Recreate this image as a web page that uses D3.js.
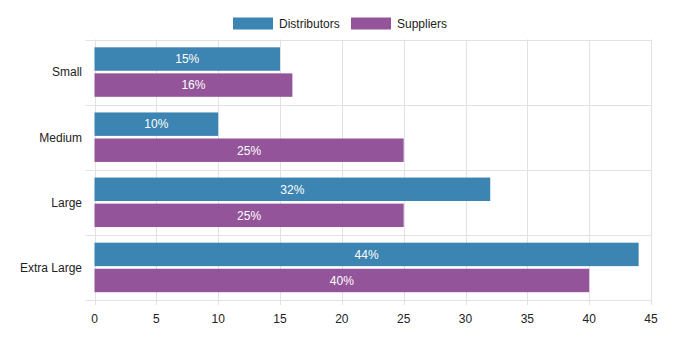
<!DOCTYPE html>
<html><head><meta charset="utf-8">
<script src="https://cdn.jsdelivr.net/npm/d3@7"></script>
<style>
body{margin:0;background:#fff;}
text{font-family:"Liberation Sans",Arial,Helvetica,sans-serif;}
</style></head>
<body><svg id="c" width="684" height="347"></svg>
<script>
const categories = ["Small","Medium","Large","Extra Large"];
const seriesNames = ["Distributors","Suppliers"];
const distributors = [15,10,32,44];
const suppliers = [16,25,25,40];
const xTicks = [0,5,10,15,20,25,30,35,40,45];
const colors = ["#3c84b1","#935499"];

const svg = d3.select("#c");
const L=94.5, R=651, T=39.5, B=300;
const x = d3.scaleLinear().domain([0,45]).range([L,R]);
const y = d3.scaleBand().domain(categories).range([T,B]);
const inner = d3.scaleBand().domain(seriesNames).range([0,y.bandwidth()]).paddingInner(0).paddingOuter(0);
const grid="#e2e2e2";

// vertical gridlines
svg.append("g").selectAll("line").data(xTicks).join("line")
  .attr("x1",d=>Math.round(x(d))+0.5).attr("x2",d=>Math.round(x(d))+0.5)
  .attr("y1",T).attr("y2",B+5).attr("stroke",grid).attr("stroke-width",1);
// horizontal gridlines at category boundaries
const bounds = categories.map(c=>y(c)).concat([B]);
svg.append("g").selectAll("line").data(bounds).join("line")
  .attr("x1",L-9).attr("x2",R).attr("y1",d=>Math.round(d)+0.5).attr("y2",d=>Math.round(d)+0.5)
  .attr("stroke",grid).attr("stroke-width",1);

// bars
const data = [];
categories.forEach((c,i)=>{
  data.push({c,s:seriesNames[0],v:distributors[i],col:colors[0]});
  data.push({c,s:seriesNames[1],v:suppliers[i],col:colors[1]});
});
const barH = inner.bandwidth()*0.8*0.9;
const slot = y.bandwidth()*0.8/2;
const off = y.bandwidth()*0.1;
const g = svg.append("g");
g.selectAll("rect").data(data).join("rect")
  .attr("x",x(0)).attr("width",d=>x(d.v)-x(0))
  .attr("y",d=>y(d.c)+off+seriesNames.indexOf(d.s)*slot+(slot-barH)/2)
  .attr("height",barH)
  .attr("fill",d=>d.col);
g.selectAll("text").data(data).join("text")
  .attr("x",d=>(x(d.v)+x(0))/2)
  .attr("y",d=>y(d.c)+off+seriesNames.indexOf(d.s)*slot+slot/2)
  .attr("dy","0.36em").attr("text-anchor","middle")
  .attr("fill","#fff").attr("font-size",12)
  .text(d=>d.v+"%");

// y labels
svg.append("g").selectAll("text").data(categories).join("text")
  .attr("x",82).attr("y",d=>y(d)+y.bandwidth()/2).attr("dy","0.36em")
  .attr("text-anchor","end").attr("font-size",12).attr("fill","#222").text(d=>d);
// x labels
svg.append("g").selectAll("text").data(xTicks).join("text")
  .attr("x",d=>x(d)).attr("y",319).attr("dy","0.36em")
  .attr("text-anchor","middle").attr("font-size",12).attr("fill","#222").text(d=>d);

// legend
const lg = svg.append("g");
const lx=[233,351];
seriesNames.forEach((n,i)=>{
  lg.append("rect").attr("x",lx[i]).attr("y",17.5).attr("width",40).attr("height",12).attr("fill",colors[i]);
  lg.append("text").attr("x",lx[i]+46).attr("y",23.5).attr("dy","0.36em").attr("font-size",12).attr("fill","#222").text(n);
});
</script></body></html>
